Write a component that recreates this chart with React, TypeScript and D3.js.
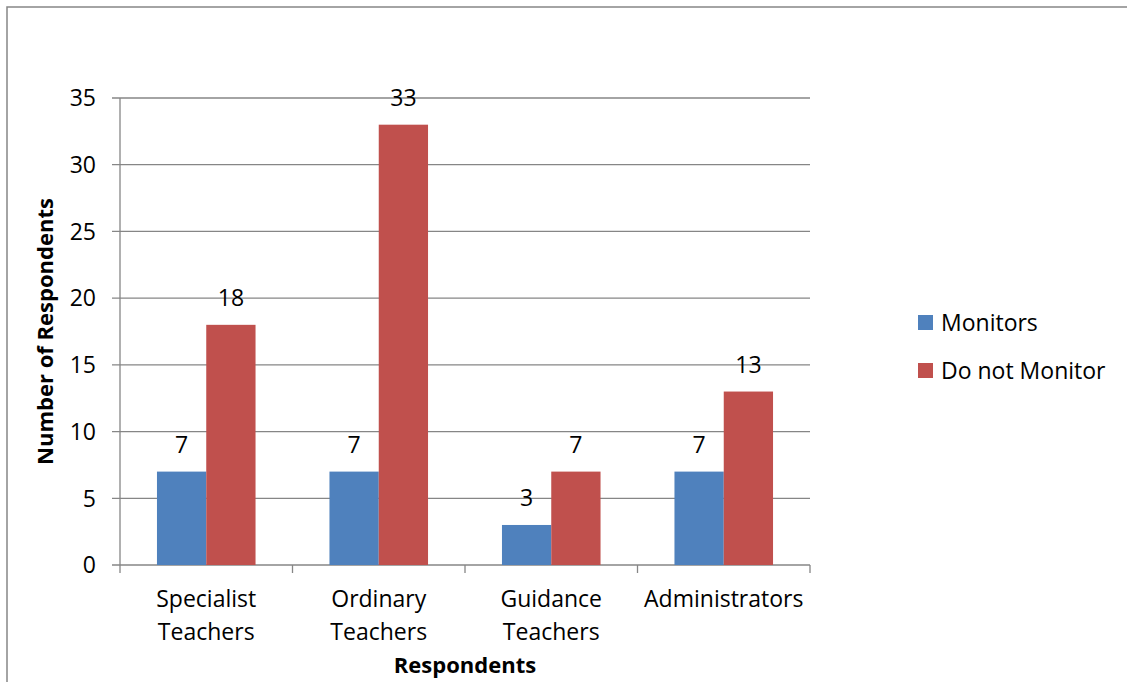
import React from "react";
import * as d3 from "d3";

const categories: string[][] = [
  ["Specialist", "Teachers"],
  ["Ordinary", "Teachers"],
  ["Guidance", "Teachers"],
  ["Administrators"],
];
const monitors: number[] = [7, 7, 3, 7];
const doNotMonitor: number[] = [18, 33, 7, 13];
const seriesNames: string[] = ["Monitors", "Do not Monitor"];
const seriesColors: string[] = ["#4F81BD", "#C0504D"];
const yTicks: number[] = [0, 5, 10, 15, 20, 25, 30, 35];

const W = 1127;
const H = 682;
const left = 120;
const right = 810;
const top = 98;
const bottom = 565;
const FONT = "Open Sans, Liberation Sans, sans-serif";
const GRID = "#868686";
const FS = 23;

export default function App() {
  const x = d3
    .scaleBand<number>()
    .domain(d3.range(categories.length))
    .range([left, right])
    .paddingInner(0)
    .paddingOuter(0);
  const y = d3.scaleLinear().domain([0, 35]).range([bottom, top]);
  const band = x.bandwidth();
  const barW = band / 3.5;
  const series = [monitors, doNotMonitor];

  return (
    <svg
      width={W}
      height={H}
      style={{ position: "absolute", left: 0, top: 0, fontFamily: FONT }}
    >
      <rect x={0} y={0} width={W} height={H} fill="#fff" />
      <rect x={7} y={7} width={W + 20} height={H + 20} fill="none" stroke={GRID} strokeWidth={1.5} />
      {yTicks.map((t) => (
        <g key={t}>
          <line x1={left - 8} x2={right} y1={y(t)} y2={y(t)} stroke={GRID} strokeWidth={1.3} />
          <text x={96} y={y(t)} dy="0.36em" textAnchor="end" fontSize={FS} fill="#000">
            {t}
          </text>
        </g>
      ))}
      <line x1={left} x2={left} y1={top} y2={bottom} stroke={GRID} strokeWidth={1.3} />
      {d3.range(categories.length + 1).map((i) => {
        const xx = i < categories.length ? (x(i) as number) : right;
        return <line key={i} x1={xx} x2={xx} y1={bottom} y2={bottom + 8} stroke={GRID} strokeWidth={1.3} />;
      })}
      {series.map((vals, s) =>
        vals.map((v, i) => {
          const cx = (x(i) as number) + band / 2;
          const bx = cx - barW + s * barW;
          return (
            <g key={`${s}-${i}`}>
              <rect x={bx} y={y(v)} width={barW} height={bottom - y(v)} fill={seriesColors[s]} />
              <text x={bx + barW / 2} y={y(v) - 19} textAnchor="middle" fontSize={FS} fill="#000">
                {v}
              </text>
            </g>
          );
        })
      )}
      {categories.map((lines, i) => (
        <text key={i} x={(x(i) as number) + band / 2} y={607} textAnchor="middle" fontSize={FS} fill="#000">
          {lines.map((l, j) => (
            <tspan key={j} x={(x(i) as number) + band / 2} dy={j === 0 ? 0 : 33}>
              {l}
            </tspan>
          ))}
        </text>
      ))}
      <text
        transform={`translate(53, ${(top + bottom) / 2}) rotate(-90)`}
        textAnchor="middle"
        fontSize={22}
        fontWeight="bold"
        fill="#000"
      >
        Number of Respondents
      </text>
      <text x={465} y={673} textAnchor="middle" fontSize={22} fontWeight="bold" fill="#000">
        Respondents
      </text>
      {seriesNames.map((n, s) => (
        <g key={n}>
          <rect x={918} y={315 + s * 48} width={15} height={15} fill={seriesColors[s]} />
          <text x={941} y={322.5 + s * 48} dy="0.36em" fontSize={FS} fill="#000">
            {n}
          </text>
        </g>
      ))}
    </svg>
  );
}
